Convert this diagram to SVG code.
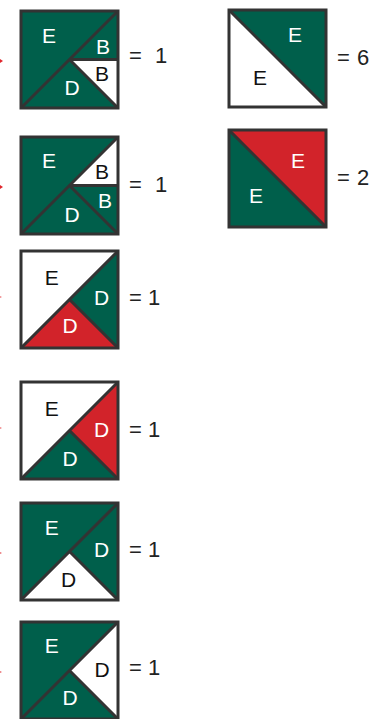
<svg xmlns="http://www.w3.org/2000/svg" width="383" height="719" viewBox="0 0 383 719">
<style>
.g{fill:#005f4b}
.r{fill:#d2232a}
.w{fill:#ffffff}
.ln{stroke:#333333;stroke-width:3;fill:none;stroke-linejoin:miter}
.lw{font-family:"Liberation Sans",Arial,sans-serif;font-size:21px;fill:#ffffff;text-anchor:middle}
.lb{font-family:"Liberation Sans",Arial,sans-serif;font-size:21px;fill:#111111;text-anchor:middle}
.eq{font-family:"Liberation Sans",Arial,sans-serif;font-size:22px;fill:#222222}
.tip{fill:#e0262c}
</style>
<rect x="0" y="0" width="383" height="719" fill="#ffffff"/>
<g id="arrows">
<polygon class="tip" points="0,59 3,61 0,63"/>
<polygon class="tip" points="0,185 3,187 0,189"/>
<polygon class="tip" points="0,296 2,297 0,298" opacity="0.6"/>
<polygon class="tip" points="0,427 2,428 0,429" opacity="0.6"/>
<polygon class="tip" points="0,552 2,553 0,554" opacity="0.7"/>
<polygon class="tip" points="0,671 2,672 0,673" opacity="0.7"/>
</g>
<g id="block1" transform="translate(21,11)">
<polygon class="g" points="0,0 97,0 0,97"/>
<polygon class="g" points="48.5,48.5 97,0 97,48.5"/>
<polygon class="w" points="48.5,48.5 97,48.5 97,97"/>
<polygon class="g" points="0,97 48.5,48.5 97,97"/>
<path class="ln" d="M0,97 L97,0 M48.5,48.5 L97,97 M48.5,48.5 L97,48.5"/>
<rect class="ln" x="0" y="0" width="97" height="97"/>
<text class="lw" x="28" y="31.7">E</text>
<text class="lw" x="82" y="43.3">B</text>
<text class="lb" x="81" y="70">B</text>
<text class="lw" x="51" y="84">D</text>
</g>
<text class="eq" y="63"><tspan x="129">=</tspan><tspan x="155">1</tspan></text>
<g id="block2" transform="translate(21,137)">
<polygon class="g" points="0,0 97,0 0,97"/>
<polygon class="w" points="48.5,48.5 97,0 97,48.5"/>
<polygon class="g" points="48.5,48.5 97,48.5 97,97"/>
<polygon class="g" points="0,97 48.5,48.5 97,97"/>
<path class="ln" d="M0,97 L97,0 M48.5,48.5 L97,97 M48.5,48.5 L97,48.5"/>
<rect class="ln" x="0" y="0" width="97" height="97"/>
<text class="lw" x="28" y="31.3">E</text>
<text class="lb" x="81" y="42.3">B</text>
<text class="lw" x="84" y="71.3">B</text>
<text class="lw" x="51" y="84.7">D</text>
</g>
<text class="eq" y="191.7"><tspan x="129">=</tspan><tspan x="155">1</tspan></text>
<g id="block3" transform="translate(21,251)">
<polygon class="w" points="0,0 97,0 0,97"/>
<polygon class="g" points="48.5,48.5 97,0 97,97"/>
<polygon class="r" points="0,97 48.5,48.5 97,97"/>
<path class="ln" d="M0,97 L97,0 M48.5,48.5 L97,97"/>
<rect class="ln" x="0" y="0" width="97" height="97"/>
<text class="lb" x="30.7" y="34">E</text>
<text class="lw" x="80.7" y="54">D</text>
<text class="lw" x="49" y="82.3">D</text>
</g>
<text class="eq" y="305"><tspan x="129">=</tspan><tspan x="148">1</tspan></text>
<g id="block4" transform="translate(21,382)">
<polygon class="w" points="0,0 97,0 0,97"/>
<polygon class="r" points="48.5,48.5 97,0 97,97"/>
<polygon class="g" points="0,97 48.5,48.5 97,97"/>
<path class="ln" d="M0,97 L97,0 M48.5,48.5 L97,97"/>
<rect class="ln" x="0" y="0" width="97" height="97"/>
<text class="lb" x="30.7" y="34">E</text>
<text class="lw" x="80.7" y="54.7">D</text>
<text class="lw" x="49" y="84">D</text>
</g>
<text class="eq" y="436.7"><tspan x="129">=</tspan><tspan x="148">1</tspan></text>
<g id="block5" transform="translate(21,503)">
<polygon class="g" points="0,0 97,0 0,97"/>
<polygon class="g" points="48.5,48.5 97,0 97,97"/>
<polygon class="w" points="0,97 48.5,48.5 97,97"/>
<path class="ln" d="M0,97 L97,0 M48.5,48.5 L97,97"/>
<rect class="ln" x="0" y="0" width="97" height="97"/>
<text class="lw" x="30.7" y="32">E</text>
<text class="lw" x="80.7" y="53.7">D</text>
<text class="lb" x="47.5" y="83.7">D</text>
</g>
<text class="eq" y="556.7"><tspan x="129">=</tspan><tspan x="148">1</tspan></text>
<g id="block6" transform="translate(21,622)">
<polygon class="g" points="0,0 97,0 0,97"/>
<polygon class="w" points="48.5,48.5 97,0 97,97"/>
<polygon class="g" points="0,97 48.5,48.5 97,97"/>
<path class="ln" d="M0,97 L97,0 M48.5,48.5 L97,97"/>
<rect class="ln" x="0" y="0" width="97" height="97"/>
<text class="lw" x="30.7" y="31.3">E</text>
<text class="lb" x="81" y="54.7">D</text>
<text class="lw" x="49" y="83">D</text>
</g>
<text class="eq" y="675"><tspan x="129">=</tspan><tspan x="148">1</tspan></text>
<g id="blockR1" transform="translate(229,10)">
<polygon class="g" points="0,0 97,0 97,97"/>
<polygon class="w" points="0,0 97,97 0,97"/>
<path class="ln" d="M0,0 L97,97"/>
<rect class="ln" x="0" y="0" width="97" height="97"/>
<text class="lw" x="66" y="31.7">E</text>
<text class="lb" x="31" y="75">E</text>
</g>
<text class="eq" y="65"><tspan x="337">=</tspan><tspan x="357">6</tspan></text>
<g id="blockR2" transform="translate(229,130)">
<polygon class="r" points="0,0 97,0 97,97"/>
<polygon class="g" points="0,0 97,97 0,97"/>
<path class="ln" d="M0,0 L97,97"/>
<rect class="ln" x="0" y="0" width="97" height="97"/>
<text class="lw" x="69" y="38.3">E</text>
<text class="lw" x="27" y="73.3">E</text>
</g>
<text class="eq" y="185"><tspan x="337">=</tspan><tspan x="357">2</tspan></text>
</svg>
